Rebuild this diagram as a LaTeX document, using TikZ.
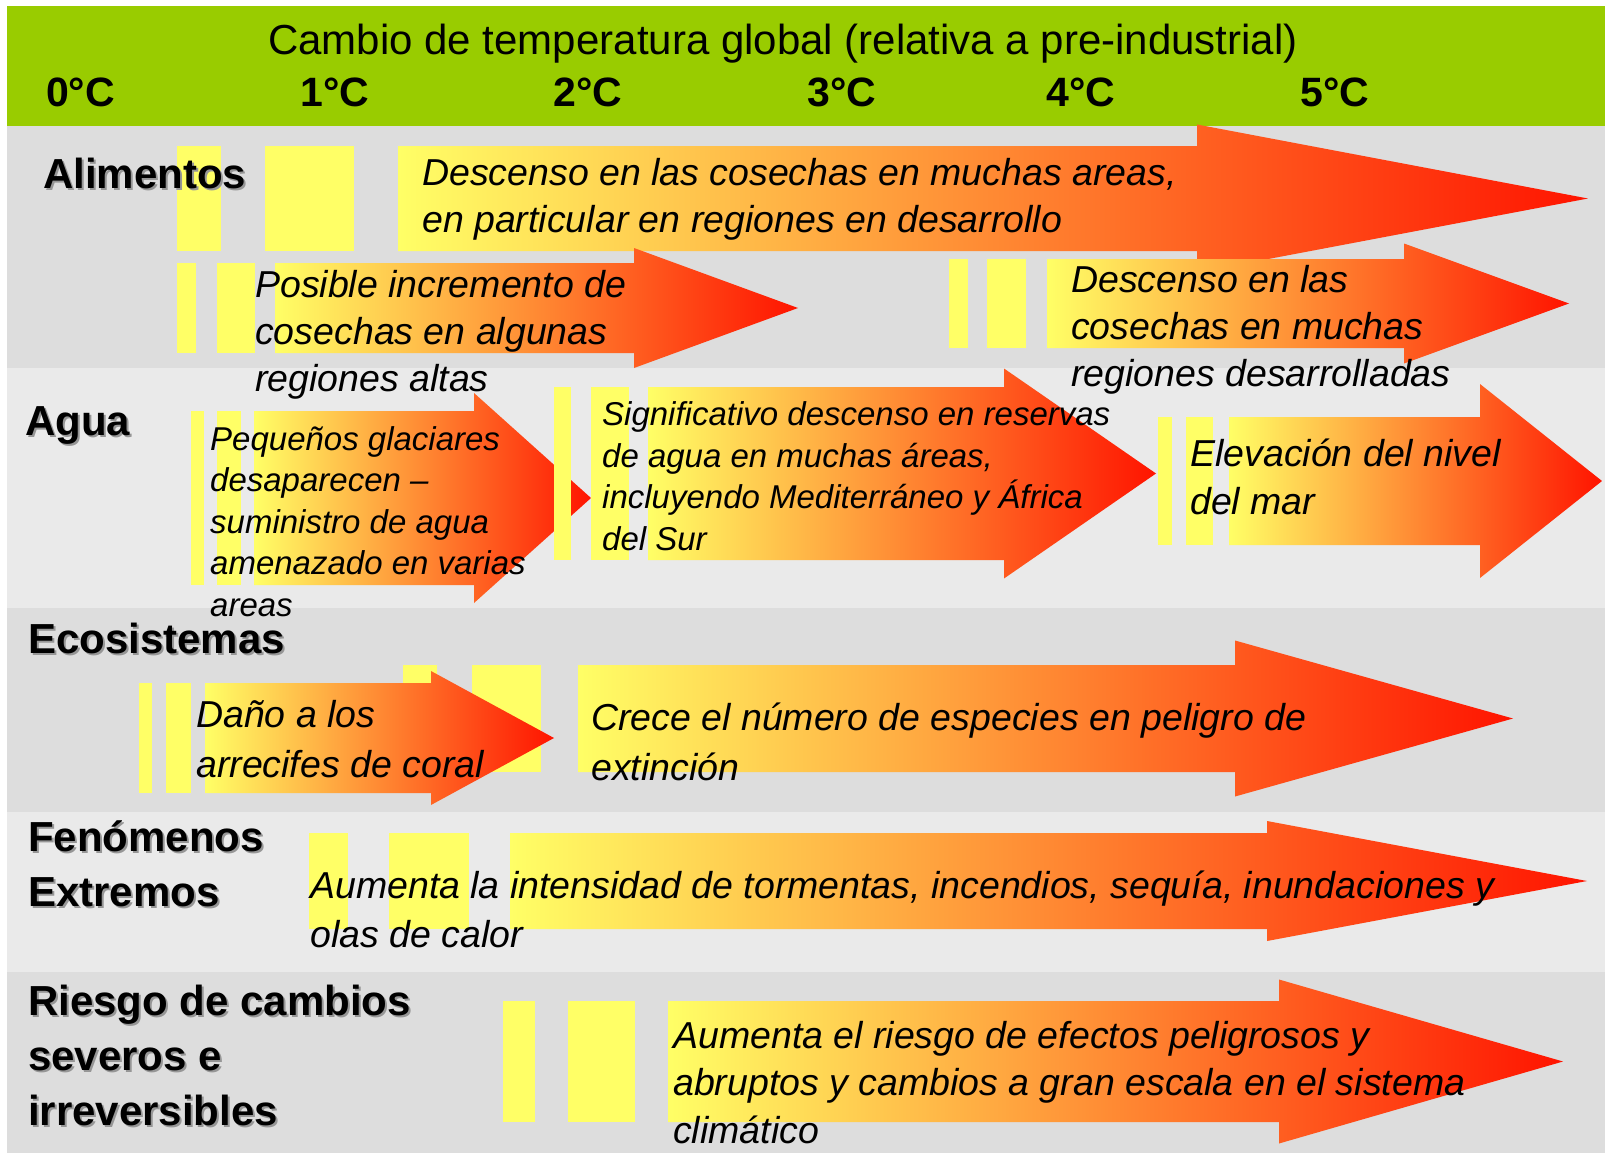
\documentclass[tikz,border=0pt]{standalone}
\usepackage{fontspec}
\setmainfont{Liberation Sans}
\definecolor{verde}{RGB}{153,204,0}
\definecolor{grisA}{RGB}{221,221,221}
\definecolor{grisB}{RGB}{234,234,234}
\definecolor{amarillo}{RGB}{255,255,102}
\definecolor{naranja}{RGB}{255,155,60}
\definecolor{rojo}{RGB}{255,20,0}
\definecolor{sombra}{RGB}{150,150,150}

\begin{document}
\begin{tikzpicture}[x=1pt,y=-1pt,
    barra/.style={fill=amarillo},
    flecha/.style={left color=amarillo,middle color=naranja,right color=rojo},
    titulo/.style={anchor=base,inner sep=0pt,font=\fontsize{42}{50}\selectfont},
    grado/.style={anchor=base west,inner sep=0pt,font=\fontsize{41}{49}\selectfont\bfseries},
    tema/.style={anchor=base west,inner sep=0pt,align=left,font=\fontsize{42}{55}\selectfont\bfseries},
    texto/.style={anchor=base west,inner sep=0pt,align=left,font=\fontsize{37.5}{#1}\selectfont\itshape},
    texto/.default=47,
    chico/.style={anchor=base west,inner sep=0pt,align=left,font=\fontsize{33}{41.5}\selectfont\itshape}]
  \useasboundingbox (0,0) rectangle (1605,1153);
  \fill[verde] (7,6) rectangle (1605,126);
  \fill[grisA] (7,126) rectangle (1605,368);
  \fill[grisB] (7,368) rectangle (1605,608);
  \fill[grisA] (7,608) rectangle (1605,812);
  \fill[grisB] (7,812) rectangle (1605,972);
  \fill[grisA] (7,972) rectangle (1605,1153);
  \node[titulo] (titulo) at (783,55) {Cambio de temperatura global (relativa a pre-industrial)};
  \foreach \n/\x in {0/46,1/300,2/553,3/807,4/1046,5/1300}
    \node[grado] (g\n) at (\x,107) {\n°C};
  \foreach \a/\b/\c/\d/\xo/\ya/\yb/\xh/\h/\xt in {
      177/221/265/354/398/146/251/1197/74/1588,
      177/196/217/255/275/263/353/634/60/798,
      949/968/987/1026/1047/259/348/1404/60/1569,
      191/204/217/241/254/411/585/474/105/591,
      554/571/591/629/648/387/560/1004/105/1156,
      1158/1172/1186/1213/1229/417/545/1480/97/1602,
      403/437/472/541/578/665/772/1235/78/1513,
      139/152/166/191/205/683/793/431/67/554,
      309/348/389/469/510/833/929/1267/60/1587,
      503/535/568/635/668/1001/1122/1279/82/1563}{
    \pgfmathsetmacro\ym{(\ya+\yb)/2}
    \fill[barra] (\a,\ya) rectangle (\b,\yb);
    \fill[barra] (\c,\ya) rectangle (\d,\yb);
    \shade[flecha] (\xo,\ya) -- (\xh,\ya) -- (\xh,\ym-\h) -- (\xt,\ym)
      -- (\xh,\ym+\h) -- (\xh,\yb) -- (\xo,\yb) -- cycle;
  }
  \foreach \nombre/\x/\y/\t in {alim/43/188/Alimentos,agua/25/435/Agua,
      eco/28/653/Ecosistemas,fen/28/906/{Fenómenos\\Extremos},
      riesgo/28/1125/{Riesgo de cambios\\severos e\\irreversibles}}{
    \node[tema,text=sombra] (\nombre-s) at (\x+2,\y+2) {\t};
    \node[tema] (\nombre) at (\x,\y) {\t};
  }
  \node[texto] (t1) at (422,232) {Descenso en las cosechas en muchas areas,\\en particular en regiones en desarrollo};
  \node[texto] (t2) at (255,391) {Posible incremento de\\cosechas en algunas\\regiones altas};
  \node[texto] (t3) at (1071,386) {Descenso en las\\cosechas en muchas\\regiones desarrolladas};
  \node[chico] (t4) at (210,616) {Pequeños glaciares\\desaparecen –\\suministro de agua\\amenazado en varias\\areas};
  \node[chico] (t5) at (602,550) {Significativo descenso en reservas\\de agua en muchas áreas,\\incluyendo Mediterráneo y África\\del Sur};
  \node[texto=48] (t6) at (1190,514) {Elevación del nivel\\del mar};
  \node[texto=50] (t7) at (196,777) {Daño a los\\arrecifes de coral};
  \node[texto=50] (t8) at (591,780) {Crece el número de especies en peligro de\\extinción};
  \node[texto=49] (t9) at (310,947) {Aumenta la intensidad de tormentas, incendios, sequía, inundaciones y\\olas de calor};
  \node[texto=47.5] (t10) at (673,1143) {Aumenta el riesgo de efectos peligrosos y\\abruptos y cambios a gran escala en el sistema\\climático};
\end{tikzpicture}
\end{document}
